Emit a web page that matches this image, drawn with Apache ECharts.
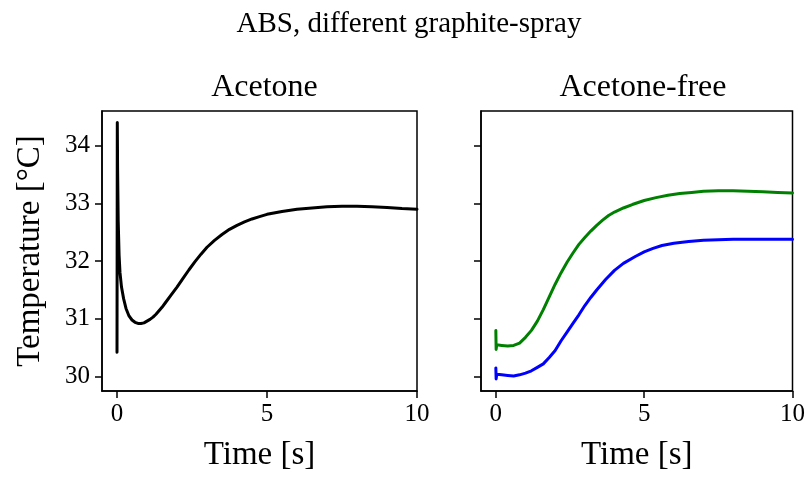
<!DOCTYPE html>
<html>
<head>
<meta charset="utf-8">
<script src="https://cdn.jsdelivr.net/npm/echarts@6/dist/echarts.min.js"></script>
<style>
  html, body { margin: 0; padding: 0; background: #fff; }
  #chart { width: 808px; height: 477px; }
</style>
</head>
<body>
<div id="chart"></div>
<script>
// Panel titles and tick labels
const mainTitle = 'ABS, different graphite-spray';
const panelTitles = ['Acetone', 'Acetone-free'];
const xTicks = [0, 5, 10];
const yTicks = [30, 31, 32, 33, 34];

// Acetone-based spray (black)
const acetoneTime = [0, 0.01, 0.02, 0.04, 0.07, 0.1, 0.15, 0.22, 0.3, 0.4, 0.5, 0.6, 0.7, 0.8, 0.9, 1.0, 1.1, 1.2, 1.3, 1.4, 1.5, 1.6, 1.8, 2.0, 2.2, 2.4, 2.6, 2.8, 3.0, 3.25, 3.5, 3.75, 4.0, 4.25, 4.5, 4.75, 5.0, 5.5, 6.0, 6.5, 7.0, 7.5, 8.0, 8.5, 9.0, 9.5, 10];
const acetoneTemp = [30.42, 34.4, 33.6, 32.7, 32.1, 31.8, 31.55, 31.35, 31.18, 31.05, 30.98, 30.94, 30.92, 30.92, 30.93, 30.96, 30.99, 31.03, 31.08, 31.14, 31.2, 31.27, 31.41, 31.55, 31.7, 31.85, 31.99, 32.12, 32.24, 32.36, 32.46, 32.55, 32.62, 32.68, 32.73, 32.77, 32.81, 32.86, 32.9, 32.92, 32.94, 32.95, 32.95, 32.94, 32.93, 32.91, 32.9];

// Acetone-free spray, first sample (green)
const freeTimeA = [0, 0.01, 0.03, 0.2, 0.4, 0.6, 0.8, 1.0, 1.2, 1.4, 1.6, 1.8, 2.0, 2.2, 2.4, 2.6, 2.8, 3.0, 3.2, 3.4, 3.6, 3.8, 4.0, 4.3, 4.6, 5.0, 5.4, 5.8, 6.2, 6.6, 7.0, 7.5, 8.0, 8.5, 9.0, 9.5, 10];
const freeTempA = [30.8, 30.47, 30.55, 30.54, 30.53, 30.54, 30.58, 30.68, 30.8, 30.96, 31.16, 31.38, 31.6, 31.8, 31.98, 32.14, 32.29, 32.41, 32.52, 32.62, 32.71, 32.79, 32.85, 32.92, 32.98, 33.05, 33.1, 33.14, 33.17, 33.19, 33.21, 33.22, 33.22, 33.21, 33.2, 33.19, 33.18];

// Acetone-free spray, second sample (blue)
const freeTimeB = [0, 0.01, 0.03, 0.2, 0.4, 0.6, 0.8, 1.0, 1.2, 1.4, 1.6, 1.8, 2.0, 2.2, 2.4, 2.6, 2.8, 3.0, 3.2, 3.4, 3.7, 4.0, 4.3, 4.7, 5.0, 5.3, 5.6, 6.0, 6.5, 7.0, 7.5, 8.0, 9.0, 10];
const freeTempB = [30.15, 29.96, 30.04, 30.03, 30.02, 30.01, 30.03, 30.06, 30.1, 30.16, 30.22, 30.33, 30.45, 30.62, 30.77, 30.92, 31.07, 31.23, 31.37, 31.5, 31.68, 31.84, 31.96, 32.08, 32.16, 32.22, 32.27, 32.31, 32.34, 32.36, 32.37, 32.38, 32.38, 32.38];

const pairs = (xs, ys) => xs.map((x, i) => [x, ys[i]]);

const FONT = 'Liberation Serif';
const grids = [
  { left: 102, top: 111, width: 315, height: 281 },
  { left: 481, top: 111, width: 314, height: 281 }
];

function xAxisFor(idx) {
  return {
    gridIndex: idx, type: 'value', min: -0.5, max: 10,
    name: 'Time [s]', nameLocation: 'middle', nameGap: 48,
    nameTextStyle: { fontFamily: FONT, fontSize: 33, color: '#000' },
    axisLine: { show: true, onZero: false, lineStyle: { color: '#000', width: 1.5 } },
    axisTick: { show: true, customValues: xTicks, length: 7, inside: false, lineStyle: { color: '#000', width: 1.5 } },
    axisLabel: { customValues: xTicks, margin: 11, fontFamily: FONT, fontSize: 25, color: '#000' },
    splitLine: { show: false }
  };
}
function yAxisFor(idx) {
  return {
    gridIndex: idx, type: 'value', min: 29.75, max: 34.6,
    name: idx === 0 ? 'Temperature [°C]' : '', nameLocation: 'middle', nameGap: 55,
    nameTextStyle: { fontFamily: FONT, fontSize: 33, color: '#000' },
    axisLine: { show: true, onZero: false, lineStyle: { color: '#000', width: 1.5 } },
    axisTick: { show: true, customValues: yTicks, length: 7, inside: false, lineStyle: { color: '#000', width: 1.5 } },
    axisLabel: { show: idx === 0, customValues: yTicks, margin: 12, fontFamily: FONT, fontSize: 25, color: '#000' },
    splitLine: { show: false }
  };
}

function curve(xIdx, xs, ys, color) {
  return {
    type: 'line', xAxisIndex: xIdx, yAxisIndex: xIdx, data: pairs(xs, ys),
    showSymbol: false, smooth: false,
    lineStyle: { color: color, width: 3, join: 'round', cap: 'round' }
  };
}

const chart = echarts.init(document.getElementById('chart'), null, { renderer: 'canvas' });
chart.setOption({
  animation: false,
  backgroundColor: '#fff',
  title: [
    { text: mainTitle, left: 404, top: 5, textAlign: 'center',
      textStyle: { fontFamily: FONT, fontSize: 29, fontWeight: 'normal', color: '#000' } },
    { text: panelTitles[0], left: 259.5, top: 67, textAlign: 'center',
      textStyle: { fontFamily: FONT, fontSize: 32, fontWeight: 'normal', color: '#000' } },
    { text: panelTitles[1], left: 638, top: 67, textAlign: 'center',
      textStyle: { fontFamily: FONT, fontSize: 32, fontWeight: 'normal', color: '#000' } }
  ],
  grid: grids.map(g => Object.assign({ show: true, borderColor: '#000', borderWidth: 1.5, backgroundColor: 'transparent' }, g)),
  xAxis: [xAxisFor(0), xAxisFor(1)],
  yAxis: [yAxisFor(0), yAxisFor(1)],
  series: [
    curve(0, acetoneTime, acetoneTemp, '#000000'),
    curve(1, freeTimeA, freeTempA, '#008000'),
    curve(1, freeTimeB, freeTempB, '#0000ff')
  ]
});
</script>
</body>
</html>
